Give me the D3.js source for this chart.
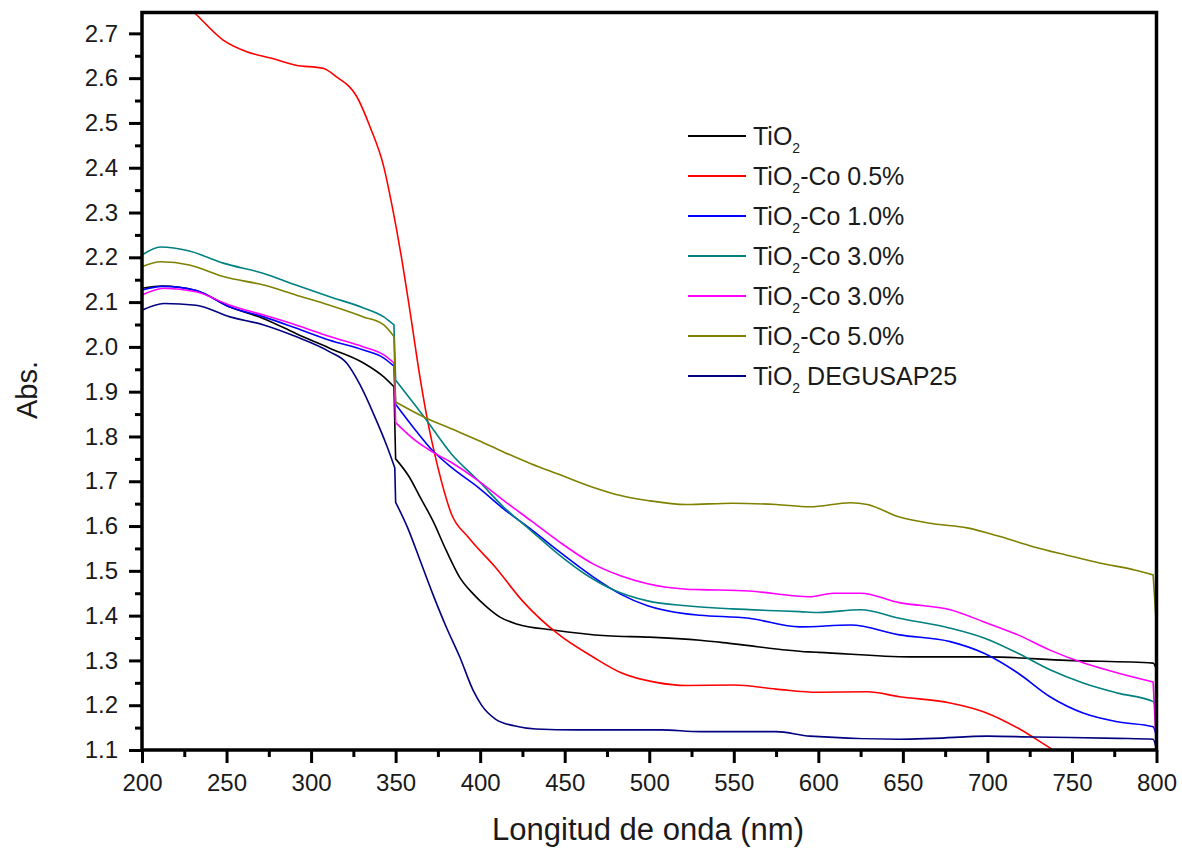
<!DOCTYPE html>
<html>
<head>
<meta charset="utf-8">
<script src="https://cdn.jsdelivr.net/npm/d3@7/dist/d3.min.js"></script>
<style>
  html, body { margin: 0; padding: 0; background: #fff; }
  svg text { font-family: "Liberation Sans", Arial, sans-serif; fill: #1a1a1a; }
</style>
</head>
<body>
<svg id="chart" width="1182" height="849"></svg>
<script>
// wavelength (nm), absorbance pairs
let tio2 = [[200,2.131],[212,2.136],[232,2.126],[252,2.089],[272,2.063],[291,2.030],[311,1.997],[331,1.964],[343,1.933],[349,1.911],[350,1.75],[358,1.71],[364,1.668],[372,1.612],[380,1.545],[388,1.485],[396,1.448],[404,1.419],[412,1.396],[422,1.381],[443,1.368],[475,1.355],[500,1.352],[530,1.345],[550,1.337],[594,1.319],[600,1.318],[654,1.308],[700,1.308],[747,1.30],[798,1.294],[800,1.28]];
let co05 = [[200,2.87],[215,2.80],[231,2.746],[248,2.685],[262,2.659],[276,2.645],[291,2.629],[307,2.622],[315,2.603],[327,2.559],[335,2.49],[343,2.402],[348,2.313],[353,2.21],[359,2.067],[364.5,1.93],[368.5,1.843],[375,1.731],[383,1.627],[393,1.575],[409,1.508],[425,1.433],[446,1.359],[467,1.307],[483,1.273],[504,1.251],[522,1.244],[550,1.245],[575,1.236],[600,1.229],[629,1.23],[648,1.219],[678,1.205],[698,1.185],[718,1.149],[739,1.10],[760,1.055]];
let co10 = [[200,2.127],[212,2.135],[232,2.126],[252,2.089],[272,2.067],[291,2.042],[311,2.015],[331,1.993],[343,1.975],[349,1.957],[350,1.872],[362,1.813],[372,1.768],[383,1.731],[399,1.686],[414,1.638],[430,1.593],[446,1.545],[467,1.486],[483,1.448],[499,1.422],[522,1.404],[530,1.401],[559,1.394],[589,1.375],[619,1.379],[648,1.357],[678,1.342],[698,1.316],[718,1.272],[737,1.219],[757,1.182],[777,1.163],[798,1.152],[800,1.13]];
let co30a = [[200,2.205],[211,2.223],[228,2.214],[248,2.187],[272,2.164],[291,2.138],[311,2.112],[331,2.087],[343,2.067],[349,2.049],[350,1.926],[367,1.843],[383,1.761],[399,1.701],[414,1.642],[430,1.59],[446,1.538],[462,1.493],[478,1.459],[499,1.433],[522,1.422],[549,1.415],[575,1.411],[589,1.409],[600,1.407],[625,1.413],[648,1.394],[678,1.372],[698,1.35],[718,1.316],[737,1.279],[757,1.249],[777,1.227],[798,1.208],[800,1.19]];
let co30b = [[200,2.116],[213,2.131],[232,2.123],[252,2.093],[272,2.071],[291,2.049],[311,2.023],[331,2.0],[343,1.982],[349,1.964],[350,1.831],[362,1.79],[372,1.765],[383,1.742],[399,1.701],[414,1.657],[430,1.612],[446,1.567],[467,1.515],[483,1.489],[499,1.471],[522,1.459],[530,1.458],[559,1.455],[595,1.442],[609,1.45],[625,1.45],[648,1.429],[678,1.413],[698,1.386],[718,1.357],[737,1.323],[757,1.294],[777,1.272],[798,1.252],[800,1.10]];
let co50 = [[200,2.179],[211,2.19],[228,2.183],[248,2.157],[272,2.138],[291,2.116],[311,2.093],[331,2.067],[343,2.049],[349,2.023],[350,1.877],[367,1.843],[383,1.817],[399,1.791],[414,1.765],[430,1.739],[446,1.716],[467,1.686],[483,1.668],[499,1.657],[522,1.648],[549,1.651],[575,1.648],[595,1.643],[619,1.652],[629,1.648],[648,1.62],[668,1.605],[688,1.596],[708,1.576],[727,1.554],[747,1.535],[767,1.517],[787,1.502],[798,1.491],[800,1.375]];
let degussa = [[200,2.082],[213,2.097],[232,2.093],[252,2.067],[272,2.049],[291,2.023],[311,1.989],[321,1.964],[329,1.915],[337,1.85],[345,1.777],[349.5,1.73],[350,1.653],[357,1.597],[364.5,1.523],[372,1.448],[380,1.374],[388,1.307],[396,1.232],[401,1.199],[409,1.169],[420,1.154],[433,1.147],[457,1.145],[507,1.145],[530,1.141],[575,1.141],[595,1.131],[648,1.124],[668,1.126],[700,1.131],[727,1.129],[777,1.126],[798,1.124],[800,1.10]];

let seriesNames = ["", "-Co 0.5%", "-Co 1.0%", "-Co 3.0%", "-Co 3.0%", "-Co 5.0%", " DEGUSAP25"];
let seriesData = [tio2, co05, co10, co30a, co30b, co50, degussa];
let seriesColors = ["#000000", "#ff0000", "#0000ff", "#008080", "#ff00ff", "#808000", "#000080"];

let xTicks = d3.range(200, 801, 50);
let xMinor = d3.range(225, 800, 50);
let yTicks = d3.range(11, 28).map(d => d / 10);
let yMinor = d3.range(11, 27).map(d => d / 10 + 0.05);

let plotLeft = 142, plotRight = 1156.5, plotTop = 12.5, plotBottom = 750;

let svg = d3.select("#chart");

let x = d3.scaleLinear().domain([200, 800]).range([plotLeft, plotRight]);
let yMax = 1.1 + (plotBottom - plotTop) / 447.9;
let y = d3.scaleLinear().domain([1.1, yMax]).range([plotBottom, plotTop]);

svg.append("defs").append("clipPath").attr("id", "plot-clip")
    .append("rect")
    .attr("x", plotLeft).attr("y", plotTop)
    .attr("width", plotRight - plotLeft).attr("height", plotBottom - plotTop);

// curves: smooth pieces, joined by straight steps where the spectrum jumps
let line = d3.line()
    .curve(d3.curveMonotoneX)
    .x(d => x(d[0]))
    .y(d => y(d[1]));

function splitAtJumps(s) {
    let pieces = [[s[0]]];
    for (let i = 1; i < s.length; i++) {
        let dx = x(s[i][0]) - x(s[i - 1][0]);
        let dy = Math.abs(y(s[i][1]) - y(s[i - 1][1]));
        if (dy / dx > 15) pieces.push([]);
        pieces[pieces.length - 1].push(s[i]);
    }
    return pieces;
}

function jumpPath(s) {
    return splitAtJumps(s).map((p, i) => {
        let d = p.length > 1 ? line(p) : "M" + x(p[0][0]) + "," + y(p[0][1]);
        return i === 0 ? d : "L" + d.slice(1);
    }).join("");
}

let curves = svg.append("g").attr("clip-path", "url(#plot-clip)");
seriesData.forEach((s, i) => {
    curves.append("path")
        .datum(s)
        .attr("fill", "none")
        .attr("stroke", seriesColors[i])
        .attr("stroke-width", 1.6)
        .attr("stroke-linejoin", "round")
        .attr("d", jumpPath);
});

// axes
function styleAxis(g) {
    g.select(".domain").remove();
    g.selectAll(".tick line").attr("stroke", "#000").attr("stroke-width", 3);
    g.selectAll(".tick text").attr("font-size", 24).attr("fill", "#1a1a1a")
        .attr("font-family", "Liberation Sans, Arial, sans-serif");
}

svg.append("g")
    .attr("transform", "translate(0," + plotBottom + ")")
    .call(d3.axisBottom(x).tickValues(xTicks).tickSize(13).tickPadding(11).tickFormat(d3.format("d")))
    .call(styleAxis);
svg.append("g")
    .attr("transform", "translate(0," + plotBottom + ")")
    .call(d3.axisBottom(x).tickValues(xMinor).tickSize(7).tickFormat(""))
    .call(styleAxis);

svg.append("g")
    .attr("transform", "translate(" + plotLeft + ",0)")
    .call(d3.axisLeft(y).tickValues(yTicks).tickSize(13).tickPadding(11).tickFormat(d3.format(".1f")))
    .call(styleAxis);
svg.append("g")
    .attr("transform", "translate(" + plotLeft + ",0)")
    .call(d3.axisLeft(y).tickValues(yMinor).tickSize(7).tickFormat(""))
    .call(styleAxis);

// frame
svg.append("rect")
    .attr("x", plotLeft).attr("y", plotTop)
    .attr("width", plotRight - plotLeft).attr("height", plotBottom - plotTop)
    .attr("fill", "none")
    .attr("stroke", "#000")
    .attr("stroke-width", 3.5);

// axis titles
svg.append("text")
    .attr("x", 648)
    .attr("y", 840)
    .attr("text-anchor", "middle")
    .attr("font-size", 31)
    .text("Longitud de onda (nm)");

svg.append("text")
    .attr("transform", "translate(37,390) rotate(-90)")
    .attr("text-anchor", "middle")
    .attr("font-size", 29)
    .text("Abs.");

// legend
let legend = svg.append("g").attr("transform", "translate(688,136)");
seriesNames.forEach((name, i) => {
    let row = legend.append("g").attr("transform", "translate(0," + (i * 40) + ")");
    row.append("line")
        .attr("x1", 0).attr("x2", 58)
        .attr("y1", 0).attr("y2", 0)
        .attr("stroke", seriesColors[i])
        .attr("stroke-width", 2);
    let t = row.append("text").attr("x", 65).attr("y", 9).attr("font-size", 25);
    t.append("tspan").text("TiO");
    t.append("tspan").attr("font-size", 14).attr("dy", 8).text("2");
    if (name) t.append("tspan").attr("dy", -8).text(name);
});
</script>
</body>
</html>
